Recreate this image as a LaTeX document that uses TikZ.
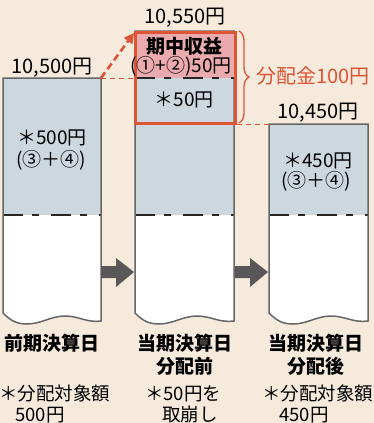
\documentclass[tikz,border=0pt]{standalone}
\usepackage{fontspec}
\setmainfont{Noto Sans CJK JP}
\usetikzlibrary{arrows.meta,decorations.pathreplacing,calc}
\definecolor{bgc}{HTML}{F5EADC}
\definecolor{grayfill}{HTML}{CDD7DE}
\definecolor{pinkfill}{HTML}{EBAAAE}
\definecolor{redc}{HTML}{DD5535}
\definecolor{linec}{HTML}{666666}
\definecolor{arrowc}{HTML}{5B5758}
\tikzset{
  txt/.style={font=\fontsize{19pt}{20pt}\selectfont, inner sep=0pt, text height=15.7pt, text depth=0.9pt},
  ntxt/.style={font=\fontsize{18.5pt}{20pt}\selectfont, inner sep=0pt, text height=15.3pt, text depth=0.9pt},
  btxt/.style={font=\bfseries\fontsize{19pt}{20pt}\selectfont, inner sep=0pt, text height=15.7pt, text depth=0.9pt},
  numtxt/.style={font=\fontsize{20pt}{21pt}\selectfont, inner sep=0pt, text height=16.5pt, text depth=1pt},
  barline/.style={draw=linec, line width=1.5pt},
  dashdotline/.style={draw=black!85, line width=1.2pt, dash pattern=on 20pt off 9pt on 7pt off 12pt},
  blockarrow/.style={fill=arrowc},
  reddash/.style={draw=redc, line width=1pt, dash pattern=on 5pt off 4pt}
}
\newcommand\mybar[3]{% #1 x shift, #2 top, #3 width
  \begin{scope}[shift={(#1,0)}]
    \fill[grayfill] (0,#2) rectangle (#3,215);
    \fill[white] (0,215) -- (0,313) .. controls (8,321) and (14,324) .. (24,324)
      .. controls (38,324) and (48,316) .. (62,316)
      .. controls (76,316) and (84,323) .. (#3,321) -- (#3,215) -- cycle;
    \draw[dashdotline] (0,215) -- (#3,215);
    \draw[barline] (0,#2) -- (0,313) .. controls (8,321) and (14,324) .. (24,324)
      .. controls (38,324) and (48,316) .. (62,316)
      .. controls (76,316) and (84,323) .. (#3,321) -- (#3,#2) -- cycle;
  \end{scope}}
\begin{document}
\begin{tikzpicture}[x=1pt,y=-1pt]
\useasboundingbox (0,0) rectangle (374,423);
\fill[bgc] (0,0) rectangle (374,423);

% bars
\mybar{3}{78}{98}
\mybar{135}{31}{99}
\mybar{269}{124}{99}
% pink part of bar 2
\fill[pinkfill] (135,31) rectangle (234,78);
\draw[dashdotline] (135,78) -- (234,78);

% block arrows
\coordinate (a1s) at (101,272);
\coordinate (a1e) at (134,272);
\coordinate (a2s) at (235,272);
\coordinate (a2e) at (268,272);
\fill[blockarrow] ($(a1s)+(0,-6)$) -- ++(15,0) -- ++(0,-8) -- (a1e) -- ($(a1s)+(15,15)$) -- ++(0,-9) -- ($(a1s)+(0,6)$) -- cycle;
\fill[blockarrow] ($(a2s)+(0,-6)$) -- ++(15,0) -- ++(0,-8) -- (a2e) -- ($(a2s)+(15,15)$) -- ++(0,-9) -- ($(a2s)+(0,6)$) -- cycle;

% red dashed connectors
\coordinate (b1tr) at (101,78);
\coordinate (rbl) at (135,78);
\coordinate (rbtl) at (134,33);
\coordinate (rbbr) at (237,124);
\coordinate (b3tl) at (269,124);
\draw[reddash] (b1tr) -- (rbl);
\draw[reddash] (rbbr) -- (b3tl);
\draw[draw=redc, line width=2.6pt, dash pattern=on 7pt off 4pt, -{Triangle[length=10pt,width=10pt]}] (b1tr) -- (rbtl);

% red box
\node[draw=redc, line width=3pt, minimum width=100pt, minimum height=91pt, inner sep=0pt] (redbox) at (185,77.5) {};

% brace
\draw[draw=redc, line width=1.3pt, decorate, decoration={brace, amplitude=10pt}] (239,31) -- (239,123);

% texts top
\node[numtxt] (v1) at (52,66) {10,500円};
\node[numtxt] (v2) at (185,16) {10,550円};
\node[numtxt] (v3) at (318,111) {10,450円};
\node[numtxt, text=redc] (dist) at (313,76) {分配金100円};

\node[btxt] (kichu) at (184,46) {期中収益};
\node[txt] (kichu2) at (181,65) {(①+②)50円};
\node[txt] (k50) at (184,99) {＊50円};

\node[txt] (b1a) at (52,137) {＊500円};
\node[txt] (b1b) at (51,159) {(③＋④)};
\node[txt] (b3a) at (318,160) {＊450円};
\node[txt] (b3b) at (316,180) {(③＋④)};

% bottom labels
\node[btxt] (l1) at (52,343) {前期決算日};
\node[btxt] (l2a) at (185,343) {当期決算日};
\node[btxt] (l2b) at (185,366) {分配前};
\node[btxt] (l3a) at (316,343) {当期決算日};
\node[btxt] (l3b) at (316,366) {分配後};

% notes
\node[ntxt, anchor=west] (n1a) at (-1,393) {＊分配対象額};
\node[ntxt, anchor=west] (n1b) at (15,414) {500円};
\node[ntxt, anchor=west] (n2a) at (145,393) {＊50円を};
\node[ntxt, anchor=west] (n2b) at (162,414) {取崩し};
\node[ntxt, anchor=west] (n3a) at (262,393) {＊分配対象額};
\node[ntxt, anchor=west] (n3b) at (279,414) {450円};
\end{tikzpicture}
\end{document}
